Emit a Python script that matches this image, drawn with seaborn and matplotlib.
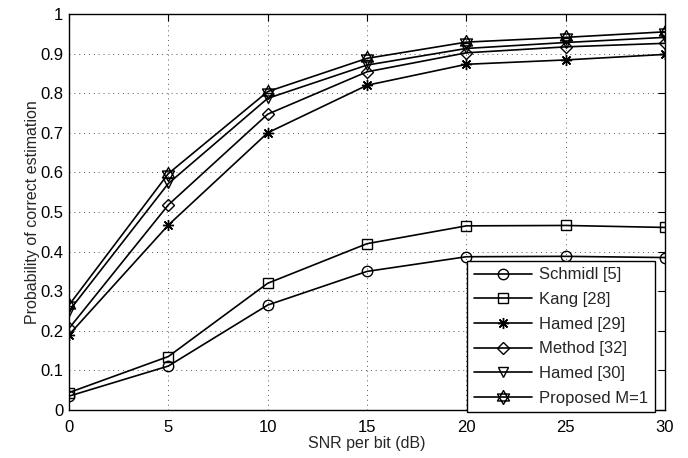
import numpy as np
import pandas as pd
import matplotlib
matplotlib.use("Agg")
import matplotlib.pyplot as plt
from matplotlib.path import Path
import seaborn as sns

snr_db = [0, 5, 10, 15, 20, 25, 30]

schmidl = [0.035, 0.111, 0.265, 0.350, 0.387, 0.388, 0.385]
kang = [0.044, 0.135, 0.320, 0.420, 0.465, 0.466, 0.461]
hamed29 = [0.190, 0.467, 0.700, 0.820, 0.873, 0.884, 0.898]
method32 = [0.206, 0.518, 0.747, 0.854, 0.902, 0.917, 0.926]
hamed30 = [0.250, 0.572, 0.787, 0.871, 0.913, 0.928, 0.941]
proposed = [0.265, 0.597, 0.804, 0.888, 0.929, 0.941, 0.955]

labels = ["Schmidl [5]", "Kang [28]", "Hamed [29]", "Method [32]",
          "Hamed [30]", "Proposed M=1"]
series = [schmidl, kang, hamed29, method32, hamed30, proposed]

y_ticks = [0, 0.1, 0.2, 0.3, 0.4, 0.5, 0.6, 0.7, 0.8, 0.9, 1]
y_tick_labels = ["0", "0.1", "0.2", "0.3", "0.4", "0.5", "0.6", "0.7",
                 "0.8", "0.9", "1"]


def hexagram():
    # Star of David: two overlapping triangles
    up = [(np.cos(a), np.sin(a)) for a in np.deg2rad([90, 210, 330])]
    dn = [(np.cos(a), np.sin(a)) for a in np.deg2rad([270, 30, 150])]
    verts = up + [up[0]] + dn + [dn[0]]
    codes = ([Path.MOVETO] + [Path.LINETO] * 2 + [Path.CLOSEPOLY]) * 2
    return Path(verts, codes)


markers = ["o", "s", (8, 2, 0), "D", "v", hexagram()]
msizes = [7.5, 6.5, 8, 6.5, 7.5, 10]

sns.set_theme(style="white")
plt.rcParams["font.family"] = ["Liberation Sans", "DejaVu Sans"]
plt.rcParams["font.size"] = 12

fig = plt.figure(figsize=(6.88, 4.58), dpi=100)
ax = fig.add_axes([69 / 688, 48 / 458, 596 / 688, 396 / 458])

df = pd.DataFrame({"snr": snr_db})
for lab, vals, mk, ms in zip(labels, series, markers, msizes):
    df[lab] = vals
    sns.lineplot(data=df, x="snr", y=lab, ax=ax, color="black", lw=1.2,
                 marker=mk, markersize=ms, markerfacecolor="none",
                 markeredgecolor="black", markeredgewidth=1.0, label=lab)

ax.set_xlim(0, 30)
ax.set_ylim(0, 1)
ax.set_xticks(snr_db)
ax.set_xticklabels([str(v) for v in snr_db])
ax.set_yticks(y_ticks)
ax.set_yticklabels(y_tick_labels)
ax.set_xlabel("SNR per bit (dB)", fontsize=11.5, labelpad=1)
ax.set_ylabel("Probability of correct estimation", fontsize=11.5, labelpad=0)

ax.grid(True, linestyle=(0, (1, 4)), color="#555555", linewidth=0.7)
ax.tick_params(direction="in", length=5, width=0.8, top=True, right=True,
               labelsize=12, colors="black")
ax.tick_params(axis="x", pad=7)
ax.tick_params(axis="y", pad=4)
for sp in ax.spines.values():
    sp.set_visible(True)
    sp.set_color("black")
    sp.set_linewidth(1.0)

leg = ax.legend(loc="lower right", bbox_to_anchor=(0.983, -0.006),
                frameon=True, fancybox=False, edgecolor="black",
                framealpha=1, fontsize=12, handlelength=3.5,
                labelspacing=0.58, borderpad=0.4, handletextpad=0.4,
                borderaxespad=0)
leg.get_frame().set_linewidth(1.0)

fig.savefig("out.png", dpi=100)
